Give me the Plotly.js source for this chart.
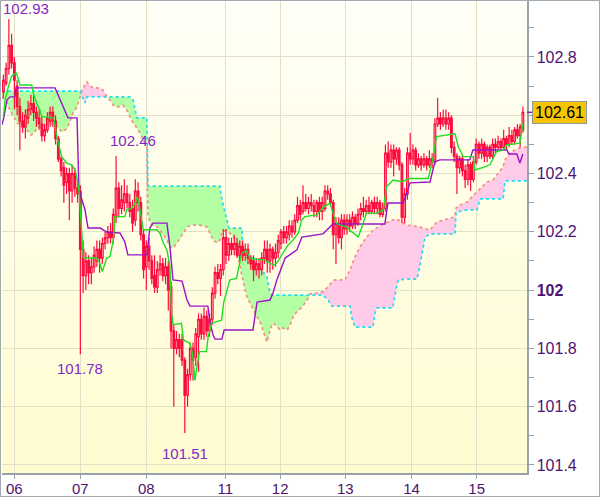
<!DOCTYPE html>
<html><head><meta charset="utf-8">
<script src="https://cdn.plot.ly/plotly-3.0.1.min.js"></script>
<style>
html,body{margin:0;padding:0;background:#fff;}
#wrap{position:relative;width:600px;height:497px;overflow:hidden;}
#chart{width:600px;height:497px;}
#frame{position:absolute;left:0;top:0;width:600px;height:497px;box-sizing:border-box;border:1px solid #a3abb2;pointer-events:none;}
</style></head><body>
<div id="wrap"><div id="chart"></div><div id="frame"></div></div>
<script>
// ---- hourly candles (bar index 0..189) ----
const open = [
102.68,102.71,102.76,102.84,102.78,102.70,102.63,102.58,102.56,102.59,
102.62,102.64,102.61,102.59,102.57,102.53,102.55,102.58,102.61,102.58,
102.52,102.45,102.42,102.37,102.40,102.34,102.40,102.35,102.34,102.14,
102.05,102.10,102.06,102.08,102.10,102.14,102.11,102.16,102.18,102.20,
102.18,102.25,102.35,102.28,102.30,102.33,102.30,102.28,102.24,102.34,
102.30,102.19,102.08,102.15,102.10,102.05,102.01,102.07,102.09,102.05,
102.08,102.01,101.86,101.80,101.83,101.83,101.76,101.64,101.71,101.80,
101.77,101.84,101.90,101.85,101.91,101.86,101.90,101.99,102.06,102.04,
102.07,102.18,102.12,102.16,102.14,102.16,102.12,102.15,102.12,102.14,
102.11,102.10,102.07,102.09,102.07,102.11,102.14,102.10,102.14,102.11,
102.13,102.16,102.20,102.18,102.19,102.22,102.20,102.24,102.29,102.27,
102.30,102.28,102.30,102.29,102.27,102.30,102.27,102.28,102.34,102.33,
102.30,102.19,102.23,102.18,102.24,102.21,102.24,102.22,102.25,102.23,
102.26,102.28,102.27,102.29,102.27,102.30,102.28,102.30,102.26,102.28,
102.47,102.44,102.48,102.45,102.48,102.43,102.25,102.33,102.47,102.45,
102.48,102.43,102.45,102.43,102.45,102.43,102.45,102.44,102.57,102.59,
102.57,102.59,102.57,102.59,102.49,102.46,102.42,102.45,102.41,102.38,
102.43,102.38,102.44,102.50,102.47,102.50,102.46,102.49,102.46,102.50,
102.49,102.51,102.49,102.52,102.50,102.53,102.51,102.55,102.53,102.55];
const high = [
102.74,102.78,102.93,102.88,102.80,102.72,102.66,102.61,102.62,102.65,
102.67,102.67,102.63,102.62,102.60,102.57,102.61,102.63,102.63,102.60,
102.53,102.46,102.44,102.42,102.42,102.43,102.42,102.37,102.36,102.17,
102.13,102.12,102.11,102.15,102.17,102.17,102.18,102.20,102.22,102.23,
102.28,102.46,102.37,102.36,102.38,102.36,102.33,102.31,102.38,102.37,
102.32,102.21,102.17,102.18,102.12,102.12,102.10,102.12,102.11,102.11,
102.10,102.03,101.88,101.86,101.85,101.85,101.77,101.73,101.82,101.82,
101.87,101.92,101.92,101.94,101.93,101.92,102.01,102.08,102.09,102.09,
102.21,102.21,102.18,102.18,102.19,102.18,102.17,102.17,102.16,102.16,
102.12,102.12,102.11,102.11,102.13,102.17,102.17,102.16,102.15,102.16,
102.19,102.21,102.22,102.22,102.24,102.24,102.26,102.32,102.31,102.36,
102.33,102.32,102.33,102.31,102.31,102.32,102.32,102.36,102.36,102.35,
102.31,102.25,102.25,102.26,102.26,102.26,102.26,102.27,102.26,102.28,
102.30,102.32,102.31,102.32,102.31,102.32,102.32,102.31,102.30,102.50,
102.51,102.50,102.50,102.49,102.49,102.44,102.35,102.49,102.54,102.50,
102.49,102.47,102.46,102.47,102.46,102.48,102.47,102.59,102.66,102.61,
102.62,102.62,102.61,102.60,102.51,102.47,102.46,102.46,102.43,102.45,
102.44,102.46,102.52,102.51,102.52,102.51,102.50,102.50,102.52,102.52,
102.53,102.52,102.55,102.53,102.56,102.55,102.56,102.57,102.57,102.63];
const low = [
102.66,102.70,102.74,102.76,102.62,102.60,102.48,102.54,102.52,102.57,
102.60,102.58,102.56,102.55,102.51,102.51,102.54,102.56,102.56,102.50,
102.44,102.39,102.30,102.33,102.24,102.30,102.32,102.30,101.78,101.99,
102.00,102.02,102.02,102.06,102.08,102.06,102.09,102.14,102.16,102.16,
102.16,102.23,102.25,102.26,102.27,102.28,102.25,102.20,102.22,102.27,
102.17,102.04,102.00,102.07,102.02,101.99,101.99,102.05,102.03,102.02,
101.93,101.80,101.60,101.78,101.77,101.74,101.51,101.60,101.69,101.69,
101.74,101.72,101.83,101.83,101.84,101.84,101.88,101.97,102.02,101.98,
102.05,102.09,102.10,102.12,102.12,102.11,102.10,102.10,102.10,102.09,
102.07,102.03,102.05,102.04,102.05,102.09,102.06,102.06,102.07,102.08,
102.11,102.14,102.16,102.16,102.17,102.18,102.19,102.23,102.24,102.26,
102.27,102.26,102.27,102.25,102.25,102.24,102.24,102.27,102.31,102.29,
102.14,102.09,102.16,102.14,102.19,102.19,102.20,102.21,102.21,102.22,
102.24,102.25,102.26,102.26,102.26,102.26,102.26,102.25,102.25,102.27,
102.42,102.42,102.39,102.43,102.41,102.23,102.23,102.31,102.43,102.43,
102.41,102.42,102.41,102.42,102.41,102.42,102.42,102.43,102.56,102.55,
102.56,102.55,102.55,102.47,102.44,102.33,102.40,102.39,102.35,102.36,
102.34,102.37,102.43,102.45,102.45,102.44,102.44,102.45,102.45,102.47,
102.48,102.48,102.48,102.48,102.49,102.50,102.50,102.52,102.49,102.54];
const close = [
102.72,102.76,102.84,102.78,102.72,102.63,102.58,102.56,102.60,102.62,
102.64,102.61,102.59,102.57,102.53,102.55,102.59,102.61,102.58,102.52,
102.45,102.41,102.36,102.40,102.34,102.40,102.35,102.33,102.14,102.05,
102.10,102.06,102.08,102.12,102.14,102.11,102.16,102.18,102.20,102.18,
102.26,102.35,102.28,102.31,102.33,102.30,102.27,102.23,102.34,102.30,
102.19,102.07,102.15,102.10,102.04,102.01,102.07,102.09,102.05,102.08,
102.00,101.86,101.80,101.83,101.80,101.76,101.64,101.71,101.80,101.76,
101.85,101.90,101.85,101.91,101.86,101.90,101.99,102.06,102.04,102.07,
102.18,102.12,102.16,102.14,102.16,102.12,102.15,102.12,102.14,102.11,
102.09,102.07,102.09,102.07,102.11,102.14,102.10,102.14,102.11,102.13,
102.17,102.20,102.18,102.20,102.22,102.20,102.24,102.29,102.26,102.30,
102.28,102.30,102.29,102.27,102.30,102.27,102.30,102.34,102.33,102.30,
102.19,102.23,102.18,102.24,102.21,102.24,102.22,102.25,102.23,102.26,
102.28,102.27,102.29,102.27,102.30,102.28,102.30,102.26,102.28,102.47,
102.44,102.48,102.45,102.48,102.43,102.25,102.33,102.47,102.45,102.48,
102.43,102.45,102.43,102.45,102.43,102.45,102.44,102.57,102.59,102.57,
102.59,102.57,102.59,102.49,102.46,102.42,102.45,102.41,102.38,102.43,
102.38,102.44,102.50,102.47,102.50,102.46,102.49,102.46,102.50,102.49,
102.51,102.49,102.52,102.50,102.53,102.51,102.55,102.53,102.56,102.61];

// ---- Tenkan-sen (green) breakpoints: bar index / price ----
const tenkanX = [0,0.6,1.8,3.0,4.8,6.05,10.3,10.9,12.1,13.3,
13.9,18.2,18.8,19.4,20.6,21.2,23.0,24.8,26.1,26.9,
27.6,28.5,29.1,33.9,35.1,36.0,37.6,38.8,40.0,40.6,
44.2,44.8,46.7,47.9,48.7,49.7,50.3,50.9,55.8,57.0,
58.2,59.5,60.6,61.2,61.8,64.8,65.5,67.9,68.8,69.7,
71.3,73.9,74.5,75.8,77.6,79.4,80.2,81.2,82.4,84.8,
85.8,86.7,88.5,89.7,95.1,97.0,98.2,99.4,100.6,102.4,
103.6,105.4,107.3,108.5,109.7,114.0,116.4,118.8,120.0,121.2,
122.5,124.9,126.7,129.1,130.3,132.1,135.8,138.2,139.4,141.8,
144.9,146.7,147.9,154.6,156.4,157.6,164.3,165.5,167.3,171.0,
171.5,174.6,177.0,179.4,181.8,183.1,187.9,189.0];
const tenkanY = [102.594,102.652,102.697,102.735,102.744,102.704,102.704,102.676,102.641,102.618,
102.596,102.590,102.567,102.527,102.481,102.458,102.436,102.430,102.413,102.378,
102.332,102.207,102.110,102.110,102.092,102.064,102.110,102.115,102.172,102.252,
102.252,102.275,102.281,102.298,102.321,102.275,102.241,102.207,102.207,102.195,
102.161,102.138,102.081,101.920,101.881,101.886,101.829,101.817,101.783,101.691,
101.789,101.789,101.840,101.886,101.892,101.897,101.960,101.995,102.035,102.040,
102.092,102.126,102.137,102.109,102.103,102.092,102.086,102.092,102.109,102.137,
102.155,102.172,102.195,102.240,102.252,102.258,102.286,102.298,102.263,102.229,
102.223,102.217,102.200,102.183,102.212,102.264,102.264,102.275,102.355,102.378,
102.372,102.378,102.383,102.383,102.458,102.527,102.536,102.492,102.458,102.458,
102.412,102.421,102.430,102.475,102.481,102.498,102.504,102.572];

// ---- Kijun-sen (purple) breakpoints ----
const kijunX = [-0.5,0.2,1.3,2.4,4.2,4.6,18.8,19.9,21.7,23.5,
26.8,27.5,28.6,29.7,30.8,35.2,37.7,42.4,44.2,45.3,
52.2,53.3,54.4,59.5,60.6,61.7,65.0,66.8,67.9,74.4,
75.2,76.3,77.0,79.5,80.3,90.8,92.3,97.0,98.1,99.5,
102.5,106.8,108.6,116.3,117.7,119.9,138.8,139.9,145.4,146.8,
147.9,155.2,157.0,158.8,169.7,170.8,183.2,183.9,186.8,187.9,189.0];
const kijunY = [102.567,102.594,102.652,102.663,102.663,102.694,102.694,102.670,102.628,102.591,
102.591,102.344,102.309,102.275,102.213,102.213,102.199,102.196,102.165,102.121,
102.121,102.213,102.230,102.230,102.148,102.035,102.031,101.966,101.945,101.945,
101.887,101.846,101.832,101.832,101.863,101.863,101.959,101.966,101.990,102.035,
102.110,102.138,102.182,102.193,102.206,102.227,102.227,102.299,102.299,102.333,
102.368,102.371,102.440,102.447,102.447,102.481,102.481,102.467,102.467,102.436,102.467];

// ---- Cloud: Senkou span A (salmon) and span B (cyan) on a common bar grid ----
const cloudX = [-0.5,1.3,2.4,3.9,5.0,6.8,8.6,10.1,11.1,12.6,
14.1,15.1,16.2,18.1,19.9,21.0,21.7,23.2,24.2,25.3,
26.8,27.9,28.6,29.7,30.4,31.2,32.6,34.4,36.2,37.7,
38.8,39.9,41.3,43.5,44.9,46.1,47.2,48.6,49.7,50.8,
52.2,52.6,53.3,54.1,55.9,57.0,58.1,59.5,60.6,61.7,
63.2,65.0,66.8,68.6,71.5,74.1,75.5,76.3,77.7,78.8,
79.5,81.0,82.1,83.9,85.3,86.1,86.8,87.2,88.6,89.7,
90.8,92.3,93.4,94.5,95.9,97.0,98.1,99.5,100.6,101.7,
103.2,104.3,105.7,106.8,108.6,110.5,111.5,114.1,116.3,118.1,
119.5,120.6,124.3,126.1,126.8,127.9,129.7,130.8,132.2,134.5,
135.2,135.9,138.8,141.7,142.8,143.6,146.8,150.5,151.6,152.3,
153.4,155.2,157.7,159.9,162.5,164.3,164.7,166.1,168.7,170.5,
172.3,173.4,175.9,178.1,179.9,181.8,182.5,184.3,186.1,187.9,190.5];
const spanA = [102.663,102.642,102.618,102.594,102.574,102.563,102.549,102.532,102.539,102.560,
102.556,102.549,102.577,102.567,102.556,102.546,102.543,102.556,102.577,102.608,
102.628,102.663,102.687,102.704,102.714,102.704,102.694,102.694,102.687,102.663,
102.652,102.635,102.628,102.635,102.618,102.594,102.574,102.556,102.539,102.515,
102.491,102.258,102.234,102.223,102.217,102.206,102.189,102.172,102.148,102.145,
102.162,102.189,102.217,102.223,102.223,102.217,102.189,102.172,102.162,102.172,
102.199,102.206,102.199,102.179,102.114,102.086,102.045,102.035,101.976,101.956,
101.932,101.908,101.891,101.863,101.822,101.863,101.887,101.877,101.863,101.870,
101.863,101.880,101.915,101.925,101.942,101.966,101.987,101.990,101.994,102.011,
102.028,102.035,102.035,102.069,102.086,102.114,102.148,102.165,102.182,102.206,
102.210,102.213,102.230,102.241,102.241,102.241,102.223,102.220,102.217,102.213,
102.210,102.206,102.234,102.241,102.247,102.251,102.282,102.292,102.302,102.320,
102.337,102.350,102.371,102.378,102.402,102.423,102.447,102.471,102.481,102.488,102.491];
const spanB = [102.683,102.683,102.683,102.683,102.683,102.683,102.683,102.683,102.683,102.683,
102.683,102.683,102.683,102.683,102.683,102.683,102.683,102.683,102.683,102.683,
102.683,102.683,102.666,102.642,102.663,102.663,102.663,102.663,102.663,102.663,
102.663,102.663,102.663,102.663,102.663,102.663,102.652,102.591,102.591,102.591,
102.591,102.357,102.357,102.357,102.357,102.357,102.357,102.357,102.357,102.357,
102.357,102.357,102.357,102.357,102.357,102.357,102.357,102.357,102.357,102.357,
102.309,102.258,102.213,102.213,102.213,102.213,102.213,102.114,102.114,102.114,
102.114,102.086,102.076,102.062,102.045,101.990,101.983,101.983,101.983,101.983,
101.983,101.983,101.983,101.983,101.983,101.983,101.983,101.983,101.983,101.966,
101.945,101.945,101.945,101.945,101.904,101.873,101.873,101.873,101.873,101.873,
101.921,101.939,101.939,101.939,102.000,102.035,102.038,102.038,102.086,102.121,
102.182,102.193,102.193,102.193,102.193,102.193,102.268,102.271,102.275,102.275,
102.275,102.313,102.313,102.313,102.313,102.313,102.375,102.375,102.375,102.375,102.375];

// ---- axis ticks ----
const dayTickPos = [4, 28, 52, 80.7, 100.7, 124.4, 148.5, 172.2];
const dayLabels = ['06','07','08','11','12','13','14','15'];
const priceTicks = [101.4,101.6,101.8,102.0,102.2,102.4,102.6,102.8];
const priceLabels = ['101.4','101.6','101.8','<b>102</b>','102.2','102.4','','102.8'];

// labelled extremes (bar indices)
const markHighBars = [2, 41];
const markLowBars = [28, 66];

// ================= drawing =================
const FONT = '"Liberation Sans",Arial,sans-serif';
const FS = 15;
const barIdx = close.map((_, k) => k);
const xr = [-0.5, 190.5];
const yr = [101.3725, 102.992];
const GREEN_FILL = '#b4ffa4', PINK_FILL = '#ffcbe9';
const lo = spanA.map((a, k) => Math.min(a, spanB[k]));
const skip = {hoverinfo: 'skip', showlegend: false};

const traces = [
  Object.assign({x: cloudX, y: lo, mode: 'lines', line: {width: 0, color: 'rgba(0,0,0,0)'}}, skip),
  Object.assign({x: cloudX, y: spanB, mode: 'lines', fill: 'tonexty', fillcolor: GREEN_FILL, line: {width: 0, color: 'rgba(0,0,0,0)'}}, skip),
  Object.assign({x: cloudX, y: lo, mode: 'lines', line: {width: 0, color: 'rgba(0,0,0,0)'}}, skip),
  Object.assign({x: cloudX, y: spanA, mode: 'lines', fill: 'tonexty', fillcolor: PINK_FILL, line: {width: 0, color: 'rgba(0,0,0,0)'}}, skip),
  Object.assign({x: cloudX, y: spanB, mode: 'lines', line: {color: '#19dff0', width: 1.7, dash: '3px,3px'}}, skip),
  Object.assign({x: cloudX, y: spanA, mode: 'lines', line: {color: '#f58e84', width: 1.7, dash: '3px,3px'}}, skip),
  Object.assign({type: 'candlestick', x: barIdx, open: open, high: high, low: low, close: close,
    xaxis: 'x2', yaxis: 'y2', whiskerwidth: 0,
    increasing: {line: {color: '#ff0a3c', width: 1.2}, fillcolor: 'rgba(255,255,255,0)'},
    decreasing: {line: {color: '#ff0a3c', width: 1.2}, fillcolor: '#e0104a'}}, skip),
  Object.assign({x: kijunX, y: kijunY, mode: 'lines', xaxis: 'x2', yaxis: 'y2', line: {color: '#9a12c8', width: 1.4}}, skip),
  Object.assign({x: tenkanX, y: tenkanY, mode: 'lines', xaxis: 'x2', yaxis: 'y2', line: {color: '#1ee01e', width: 1.4}}, skip)
];

// background gradient bands (light cream to pale yellow)
const shapes = [];
const N = 40;
for (let k = 0; k < N; k++) {
  const t = (k + 0.5) / N; // 0 bottom -> 1 top
  const g = Math.round(252 + 3 * t);
  const b = Math.round(207 + 41 * t);
  shapes.push({type: 'rect', xref: 'paper', yref: 'paper', x0: 0, x1: 1, y0: k / N, y1: (k + 1) / N,
    fillcolor: `rgb(255,${g},${b})`, line: {width: 0}, layer: 'below'});
}
const last = close[close.length - 1];
shapes.push({type: 'line', xref: 'paper', yref: 'y', x0: 1, x1: 1 + 7 / 525, y0: last, y1: last,
  line: {color: '#8a1aa8', width: 1.5}});

const ANN_COLOR = '#8228c8';
const annFont = {family: FONT, size: FS, color: ANN_COLOR};
const annotations = [
  {x: markHighBars[0], y: high[markHighBars[0]], xref: 'x', yref: 'y', text: high[markHighBars[0]].toFixed(2),
   showarrow: false, font: annFont, xanchor: 'center', yanchor: 'middle', xshift: 17, yshift: 11},
  {x: markHighBars[1], y: high[markHighBars[1]], xref: 'x', yref: 'y', text: high[markHighBars[1]].toFixed(2),
   showarrow: false, font: annFont, xanchor: 'center', yanchor: 'middle', xshift: 17, yshift: 16},
  {x: markLowBars[0], y: low[markLowBars[0]], xref: 'x', yref: 'y', text: low[markLowBars[0]].toFixed(2),
   showarrow: false, font: annFont, xanchor: 'center', yanchor: 'middle', xshift: 0, yshift: -14},
  {x: markLowBars[1], y: low[markLowBars[1]], xref: 'x', yref: 'y', text: low[markLowBars[1]].toFixed(2),
   showarrow: false, font: annFont, xanchor: 'center', yanchor: 'middle', xshift: 0, yshift: -21},
  {x: 1, xref: 'paper', y: last, yref: 'y', text: last.toFixed(2), showarrow: false,
   xanchor: 'left', yanchor: 'middle', xshift: 5, bgcolor: '#f7c500', bordercolor: '#8e989e',
   borderwidth: 1, borderpad: 2, font: {family: FONT, size: FS + 1, color: '#000'}}
];

const AXC = '#98a2aa', GRID = '#e2e0c6', TXT = '#4e1470';
const layout = {
  width: 600, height: 497,
  margin: {l: 2, r: 73, t: 1, b: 24, pad: 0},
  paper_bgcolor: 'rgba(0,0,0,0)', plot_bgcolor: '#fffee6',
  showlegend: false, hovermode: false, boxgap: 0.15,
  font: {family: FONT, size: FS, color: TXT},
  xaxis: {range: xr, tickmode: 'array', tickvals: dayTickPos, ticktext: dayLabels,
    showgrid: true, gridcolor: GRID, gridwidth: 1, zeroline: false,
    showline: true, linecolor: AXC, linewidth: 1.5, ticks: 'outside', ticklen: 4, tickcolor: AXC,
    ticklabelstandoff: -3,
    tickfont: {family: FONT, size: FS, color: TXT}, rangeslider: {visible: false}, fixedrange: true},
  yaxis: {range: yr, side: 'right', tickmode: 'array', tickvals: priceTicks, ticktext: priceLabels,
    showgrid: true, gridcolor: GRID, gridwidth: 1, zeroline: false,
    showline: true, linecolor: AXC, linewidth: 1.5, ticks: 'outside', ticklen: 5, tickcolor: AXC,
    tickfont: {family: FONT, size: FS + 1, color: TXT}, fixedrange: true,
    minor: {tickmode: 'linear', tick0: 101.4, dtick: 0.1, ticks: 'outside', ticklen: 5, tickcolor: AXC, showgrid: false}},
  xaxis2: {overlaying: 'x', range: xr, visible: false, rangeslider: {visible: false}, fixedrange: true},
  yaxis2: {overlaying: 'y', range: yr, visible: false, side: 'right', fixedrange: true},
  shapes: shapes,
  annotations: annotations
};

Plotly.newPlot('chart', traces, layout, {staticPlot: true, displayModeBar: false});
</script>
</body></html>
